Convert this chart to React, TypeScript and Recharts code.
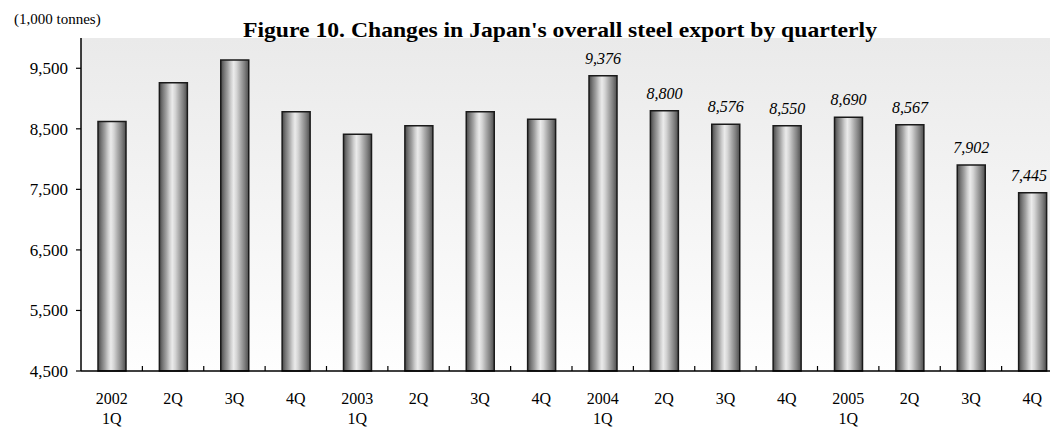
import { BarChart, Bar, XAxis, YAxis, CartesianGrid, LabelList } from "recharts";

// quarterly export volume, thousand tonnes
const tickTop = ["2002", "2Q", "3Q", "4Q", "2003", "2Q", "3Q", "4Q", "2004", "2Q", "3Q", "4Q", "2005", "2Q", "3Q", "4Q"];
const tickBottom = ["1Q", "", "", "", "1Q", "", "", "", "1Q", "", "", "", "1Q", "", "", ""];
const exportVolume = [8620, 9260, 9635, 8780, 8410, 8550, 8780, 8660, 9376, 8800, 8576, 8550, 8690, 8567, 7902, 7445];
const yTicks = [4500, 5500, 6500, 7500, 8500, 9500];
const labelledFrom = 8; // values are printed from 2004 1Q on

const CHART_W = 1070;
const CHART_H = 427;
const Y_AXIS_W = 81;
const RIGHT = 7;
const VIEW_W = 1050;
const BAND = (CHART_W - Y_AXIS_W - RIGHT) / exportVolume.length;
const FONT = "'Liberation Serif', 'Times New Roman', serif";

const data = exportVolume.map((value, i) => ({ key: String(i), value }));

const fmt = (v: number) => v.toLocaleString("en-US");

const QuarterTick = (props: any) => {
  const { x, y, index } = props;
  return (
    <g>
      <line x1={x + BAND / 2} x2={x + BAND / 2} y1={y} y2={y - 5} stroke="#000" strokeWidth={1.2} />
      <text x={x} y={y + 33} textAnchor="middle" fontFamily={FONT} fontSize={16} fill="#000">
        {tickTop[index]}
      </text>
      {tickBottom[index] && (
        <text x={x} y={y + 53} textAnchor="middle" fontFamily={FONT} fontSize={16} fill="#000">
          {tickBottom[index]}
        </text>
      )}
    </g>
  );
};

const ValueLabel = (props: any) => {
  const { x, y, width, value, index } = props;
  if (index < labelledFrom) return null;
  // keep the last label inside the visible frame
  const cx = Math.min(x + width / 2, VIEW_W - 21);
  return (
    <text x={cx} y={y - 12} textAnchor="middle" fontFamily={FONT} fontStyle="italic" fontSize={16} fill="#000">
      {fmt(value)}
    </text>
  );
};

export default function App() {
  return (
    <div style={{ position: "fixed", left: 0, top: 0, width: VIEW_W, height: 427, overflow: "hidden", background: "#fff" }}>
      <BarChart width={CHART_W} height={CHART_H} data={data} margin={{ top: 38, right: RIGHT, left: 0, bottom: 0 }}>
        <defs>
          <linearGradient id="plotBg" x1="0" y1="0" x2="0" y2="1">
            <stop offset="0%" stopColor="#eaeaea" />
            <stop offset="100%" stopColor="#fefefe" />
          </linearGradient>
          <linearGradient id="steel" x1="0" y1="0" x2="1" y2="0">
            <stop offset="0%" stopColor="#474747" />
            <stop offset="12%" stopColor="#767676" />
            <stop offset="25%" stopColor="#a2a2a2" />
            <stop offset="36%" stopColor="#cdcdcd" />
            <stop offset="46%" stopColor="#ebebeb" />
            <stop offset="57%" stopColor="#d4d4d4" />
            <stop offset="70%" stopColor="#acacac" />
            <stop offset="85%" stopColor="#808080" />
            <stop offset="100%" stopColor="#4d4d4d" />
          </linearGradient>
        </defs>
        <CartesianGrid horizontal={false} vertical={false} fill="url(#plotBg)" />
        <XAxis
          dataKey="key"
          height={56}
          interval={0}
          tickSize={0}
          tickMargin={0}
          tickLine={false}
          axisLine={{ stroke: "#000", strokeWidth: 1.5 }}
          tick={<QuarterTick />}
        />
        <YAxis
          width={Y_AXIS_W}
          domain={[4500, 10000]}
          ticks={yTicks}
          tickFormatter={fmt}
          tickSize={5}
          tickMargin={8}
          axisLine={{ stroke: "#000", strokeWidth: 1.5 }}
          tickLine={{ stroke: "#000", strokeWidth: 1.2 }}
          tick={{ fill: "#000", fontSize: 17, fontFamily: FONT }}
        />
        <Bar dataKey="value" barSize={28} fill="url(#steel)" stroke="#1a1a1a" strokeWidth={1.5} isAnimationActive={false}>
          <LabelList dataKey="value" content={<ValueLabel />} />
        </Bar>
      </BarChart>
      <svg width={VIEW_W} height={50} style={{ position: "absolute", left: 0, top: 0, pointerEvents: "none" }}>
        <text x={14} y={24} fontFamily={FONT} fontSize={15} fill="#000">
          (1,000 tonnes)
        </text>
        <text x={560} y={37} textAnchor="middle" fontFamily={FONT} fontWeight="bold" fontSize={22} textLength={634} lengthAdjust="spacingAndGlyphs" fill="#000">
          Figure 10. Changes in Japan's overall steel export by quarterly
        </text>
      </svg>
    </div>
  );
}
